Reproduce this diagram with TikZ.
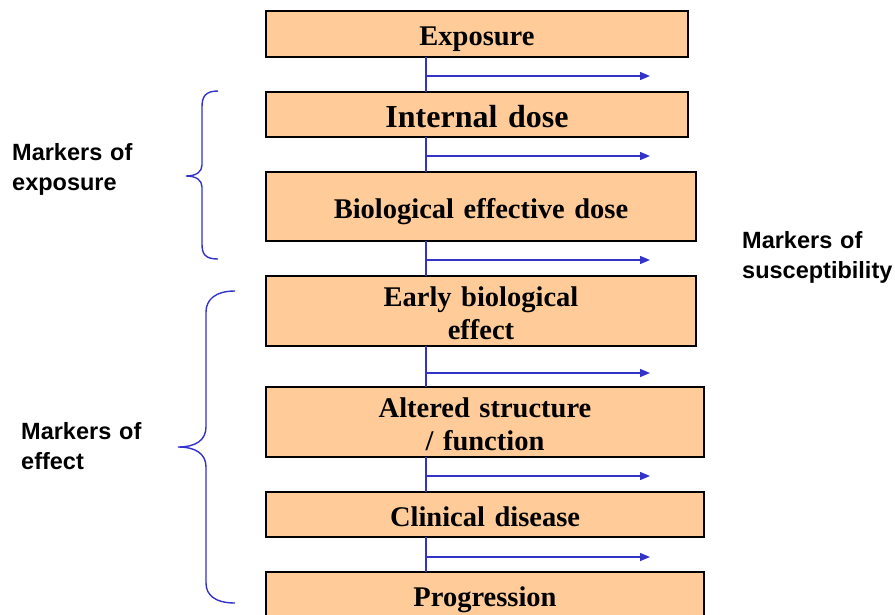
\documentclass[tikz,border=0pt]{standalone}
\usepackage{fontspec}
\setmainfont{Liberation Serif}
\setsansfont{Liberation Sans}
\usetikzlibrary{arrows.meta,positioning}
\definecolor{boxfill}{RGB}{255,204,153}
\definecolor{linkblue}{RGB}{51,51,204}

\begin{document}
\begin{tikzpicture}[x=1pt, y=-1pt, >={Triangle[length=10pt,width=8pt]}, node distance=35pt]
\tikzstyle{stage}=[draw=black, line width=1.3pt, fill=boxfill, inner sep=0pt, outer sep=0pt, align=center, text height=23pt, text depth=0pt, font=\bfseries\fontsize{28.5}{33}\selectfont]
\tikzstyle{marker}=[inner sep=0pt, align=left, anchor=base west, text width=140pt, font=\sffamily\bfseries\fontsize{23.5}{30}\selectfont]
\tikzstyle{link}=[draw=linkblue, line width=1.4pt]
\useasboundingbox (0,0) rectangle (895,614);

\node[stage, anchor=north west, text width=422pt, minimum height=46pt] (B1) at (266,11) {Exposure};
\node[stage, below=of B1.south west, anchor=north west, text width=422pt, minimum height=45pt, text height=26pt, font=\bfseries\fontsize{32}{36}\selectfont] (B2) {Internal dose};
\node[stage, below=of B2.south west, anchor=north west, text width=430pt, minimum height=69pt] (B3) {Biological effective dose};
\node[stage, below=of B3.south west, anchor=north west, text width=430pt, minimum height=70pt, text depth=33pt] (B4) {Early biological\\effect};
\node[stage, below=41pt of B4.south west, anchor=north west, text width=438pt, minimum height=70pt, text depth=33pt] (B5) {Altered structure\\/ function};
\node[stage, below=of B5.south west, anchor=north west, text width=438pt, minimum height=45pt] (B6) {Clinical disease};
\node[stage, below=of B6.south west, anchor=north west, text width=438pt, minimum height=46pt] (B7) {Progression};

% side labels
\node[marker] (M1) at (12,160) {Markers of\\exposure};
\node[marker] (M2) at (21,439) {Markers of\\effect};
\node[marker, text width=160pt] (M3) at (742,248) {Markers of\\susceptibility};

% spine and branch arrows
\coordinate (sp) at (426,0);
\coordinate (s1) at (426,76);  \coordinate (t1) at (650,76);
\coordinate (s2) at (426,156); \coordinate (t2) at (650,156);
\coordinate (s3) at (426,260); \coordinate (t3) at (650,260);
\coordinate (s4) at (426,373); \coordinate (t4) at (650,373);
\coordinate (s5) at (426,476); \coordinate (t5) at (650,476);
\coordinate (s6) at (426,557); \coordinate (t6) at (650,557);

\draw[link] (B1.south -| sp) -- (B2.north -| sp);
\draw[link] (B2.south -| sp) -- (B3.north -| sp);
\draw[link] (B3.south -| sp) -- (B4.north -| sp);
\draw[link] (B4.south -| sp) -- (B5.north -| sp);
\draw[link] (B5.south -| sp) -- (B6.north -| sp);
\draw[link] (B6.south -| sp) -- (B7.north -| sp);

\draw[link,->] (s1) -- (t1);
\draw[link,->] (s2) -- (t2);
\draw[link,->] (s3) -- (t3);
\draw[link,->] (s4) -- (t4);
\draw[link,->] (s5) -- (t5);
\draw[link,->] (s6) -- (t6);

% braces
\draw[link] (218,91) .. controls (205,91) and (202,97) .. (202,107) -- (202,165)
  .. controls (202,172) and (196,176) .. (186,176)
  .. controls (196,176) and (202,180) .. (202,187) -- (202,244)
  .. controls (202,254) and (205,259) .. (218,259);
\draw[link] (235,291) .. controls (215,291) and (206,300) .. (206,312) -- (206,427)
  .. controls (206,440) and (196,447) .. (178,447)
  .. controls (196,447) and (206,454) .. (206,467) -- (206,583)
  .. controls (206,595) and (215,603) .. (235,603);
\end{tikzpicture}
\end{document}
